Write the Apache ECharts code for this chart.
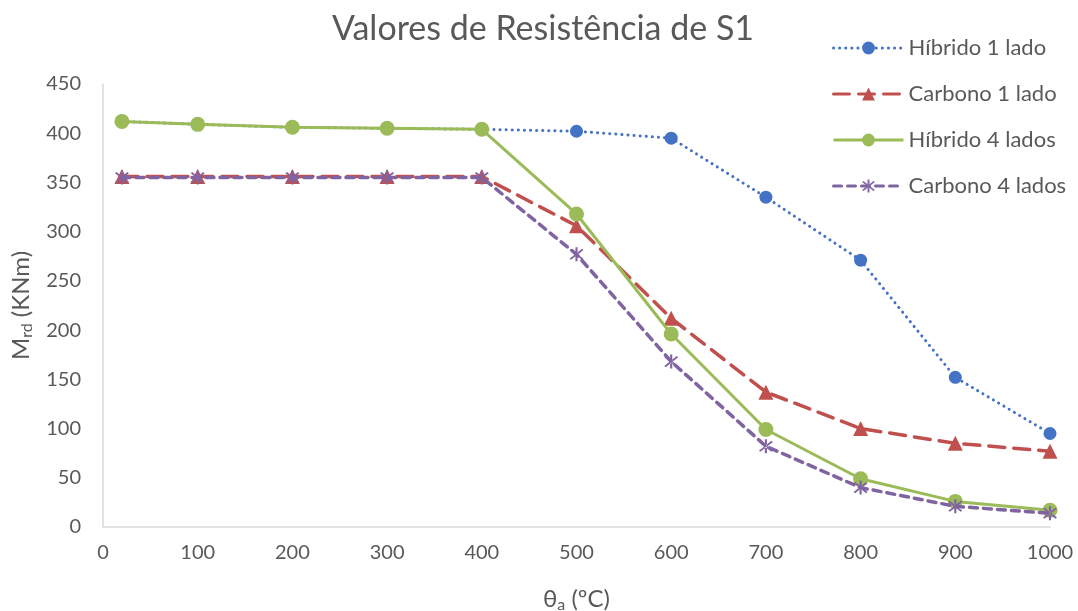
<!DOCTYPE html>
<html>
<head>
<meta charset="utf-8">
<script src="https://cdn.jsdelivr.net/npm/echarts@6/dist/echarts.min.js"></script>
<style>
html,body{margin:0;padding:0;background:#fff;}
#chart{width:1078px;height:611px;}
</style>
</head>
<body>
<div id="chart"></div>
<script>
var temps = [20, 100, 200, 300, 400, 500, 600, 700, 800, 900, 1000];
var hibrido1 = [412, 409, 406, 405, 404, 402, 395, 335, 271, 152, 95];
var carbono1 = [356, 356, 356, 356, 356, 306, 212, 137, 100, 85, 77];
var hibrido4 = [412, 409, 406, 405, 404, 318, 196, 99, 49, 26, 17];
var carbono4 = [355, 355, 355, 355, 355, 277, 168, 82, 40, 21, 14];
var seriesNames = ['Híbrido 1 lado', 'Carbono 1 lado', 'Híbrido 4 lados', 'Carbono 4 lados'];
var titleText = 'Valores de Resistência de S1';

function pairs(vals) { return temps.map(function (t, i) { return [t, vals[i]]; }); }

var asterisk = 'path://M-1.2,-10L1.2,-10L1.2,10L-1.2,10Z M6.22,7.92L7.92,6.22L-6.22,-7.92L-7.92,-6.22Z M-7.92,6.22L-6.22,7.92L7.92,-6.22L6.22,-7.92Z';
var FONT = 'Lato, "Open Sans", sans-serif';
var TXT = '#595959';

var chart = echarts.init(document.getElementById('chart'));
chart.setOption({
  animation: false,
  textStyle: { fontFamily: FONT },
  title: {
    text: titleText, left: 538, top: 7, textAlign: 'center',
    textStyle: { fontFamily: FONT, fontSize: 34, fontWeight: 'normal', color: TXT }
  },
  legend: {
    orient: 'vertical', left: 827, top: 31, itemWidth: 70, itemHeight: 16, itemGap: 22,
    lineStyle: { width: 3 },
    textStyle: { fontFamily: FONT, fontSize: 22, lineHeight: 24, color: TXT, padding: [0, 0, 0, 0] },
    data: seriesNames
  },
  grid: { left: 103, right: 28, top: 84, bottom: 84, containLabel: false, outerBoundsMode: 'none' },
  xAxis: {
    type: 'value', min: 0, max: 1000, interval: 100,
    name: '{m|θ}{s|a}{m| (ºC)}', nameLocation: 'middle', nameGap: 58,
    nameTextStyle: {
      rich: {
        m: { fontFamily: FONT, fontSize: 24, color: TXT, lineHeight: 28 },
        s: { fontFamily: FONT, fontSize: 16, color: TXT, lineHeight: 28, verticalAlign: 'bottom', padding: [10, 0, 0, 0] }
      }
    },
    axisLine: { show: true, lineStyle: { color: '#d9d9d9', width: 1.5 } },
    axisTick: { show: false },
    splitLine: { show: false },
    axisLabel: { fontFamily: FONT, fontSize: 20, color: TXT, margin: 16, formatter: function (v) { return String(v); } }
  },
  yAxis: {
    type: 'value', min: 0, max: 450, interval: 50,
    name: '{m|M}{s|rd}{m| (KNm)}', nameLocation: 'middle', nameGap: 66, nameRotate: 90,
    nameTextStyle: {
      rich: {
        m: { fontFamily: FONT, fontSize: 24, color: TXT, lineHeight: 28 },
        s: { fontFamily: FONT, fontSize: 16, color: TXT, lineHeight: 28, verticalAlign: 'bottom', padding: [10, 0, 0, 0] }
      }
    },
    axisLine: { show: true, lineStyle: { color: '#d9d9d9', width: 1.5 } },
    axisTick: { show: false },
    splitLine: { show: false },
    axisLabel: { fontFamily: FONT, fontSize: 20, color: TXT, margin: 22 }
  },
  series: [
    {
      name: seriesNames[0], type: 'line', data: pairs(hibrido1),
      symbol: 'circle', symbolSize: 13,
      lineStyle: { color: '#4472C4', width: 3, type: [0.1, 6], cap: 'round' },
      itemStyle: { color: '#4472C4' }, z: 2
    },
    {
      name: seriesNames[1], type: 'line', data: pairs(carbono1),
      symbol: 'triangle', symbolSize: 15,
      lineStyle: { color: '#C0504D', width: 3.5, type: [16, 9], cap: 'round' },
      itemStyle: { color: '#C0504D' }, z: 3
    },
    {
      name: seriesNames[2], type: 'line', data: pairs(hibrido4),
      symbol: 'circle', symbolSize: 15,
      lineStyle: { color: '#9BBB59', width: 3 },
      itemStyle: { color: '#9BBB59' }, z: 4
    },
    {
      name: seriesNames[3], type: 'line', data: pairs(carbono4),
      symbol: asterisk, symbolSize: 14,
      lineStyle: { color: '#8064A2', width: 3.5, type: [8, 6], cap: 'round' },
      itemStyle: { color: '#8064A2' }, z: 5
    }
  ]
});
</script>
</body>
</html>
